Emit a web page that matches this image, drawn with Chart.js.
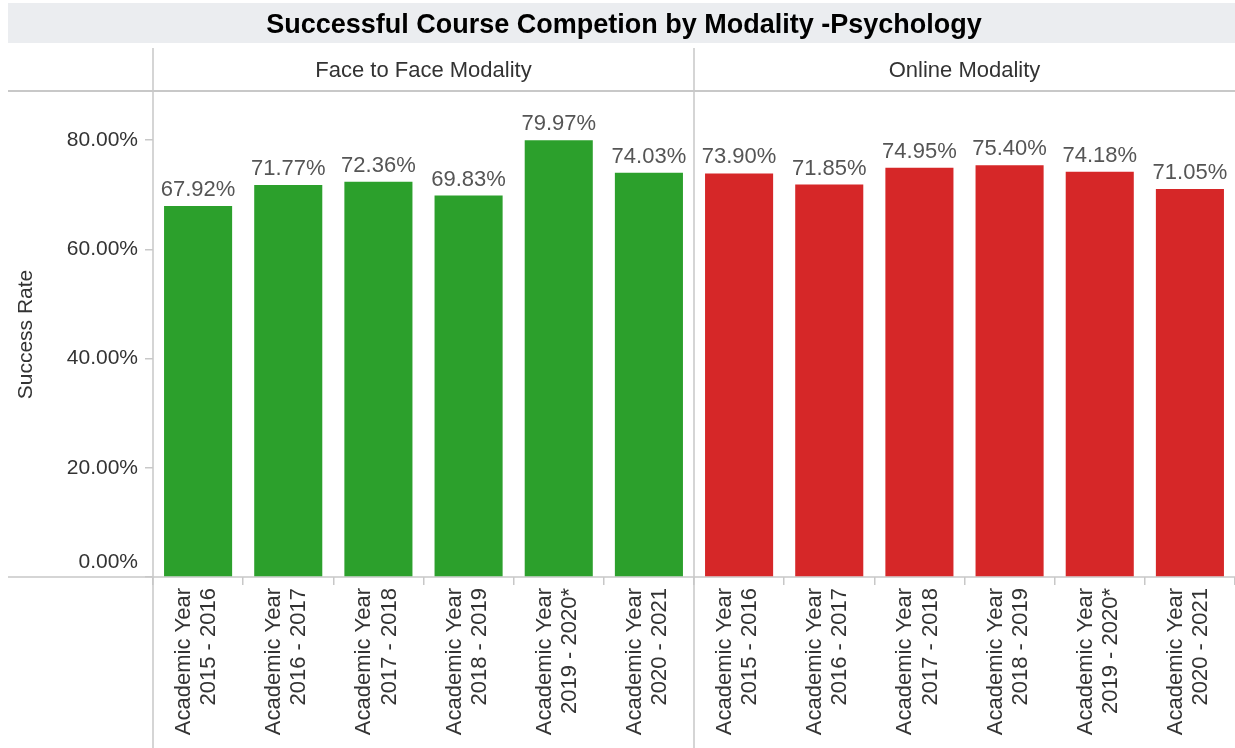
<!DOCTYPE html>
<html><head><meta charset="utf-8">
<script src="https://cdn.jsdelivr.net/npm/chart.js@4.4.1/dist/chart.umd.min.js"></script>
<style>html,body{margin:0;padding:0;background:#fff;overflow:hidden}#wrap{width:1235px;height:748px;position:relative}</style>
</head><body><div id="wrap"><canvas id="c"></canvas></div>
<script>
const chartTitle = "Successful Course Competion by Modality -Psychology";
const panelNames = ["Face to Face Modality", "Online Modality"];
const yearPrefix = "Academic Year";
const years = ["2015 - 2016", "2016 - 2017", "2017 - 2018", "2018 - 2019", "2019 - 2020*", "2020 - 2021"];
const faceToFace = [67.92, 71.77, 72.36, 69.83, 79.97, 74.03];
const online = [73.90, 71.85, 74.95, 75.40, 74.18, 71.05];
const yTicks = [0, 20, 40, 60, 80];
const yAxisTitle = "Success Rate";
const yMax = 88.8;

const FONT = "'Liberation Sans', Arial, sans-serif";
Chart.defaults.font.family = FONT;
const LINE = '#c8c8c8';

const labels = years.concat(years).map(y => [yearPrefix, y]);
const n = years.length;
const faceData = faceToFace.concat(new Array(n).fill(null));
const onlineData = new Array(n).fill(null).concat(online);

const frame = {
  id: 'frame',
  beforeDraw(chart) {
    const ctx = chart.ctx, W = chart.width, H = chart.height;
    const ca = chart.chartArea, xs = chart.scales.x;
    ctx.save();
    ctx.fillStyle = '#fff';
    ctx.fillRect(0, 0, W, H);
    ctx.fillStyle = '#ebedf0';
    ctx.fillRect(8, 3, W - 8, 40);
    ctx.fillStyle = '#000';
    ctx.font = 'bold 27px ' + FONT;
    ctx.textAlign = 'center';
    ctx.textBaseline = 'alphabetic';
    ctx.fillText(chartTitle, 624, 33);
    const sep = (xs.getPixelForValue(n - 1) + xs.getPixelForValue(n)) / 2;
    ctx.fillStyle = '#333';
    ctx.font = '22px ' + FONT;
    ctx.fillText(panelNames[0], (ca.left + sep) / 2, 77);
    ctx.fillText(panelNames[1], (sep + ca.right) / 2, 77);
    ctx.strokeStyle = LINE;
    ctx.lineWidth = 2;
    ctx.beginPath();
    ctx.moveTo(8, 91); ctx.lineTo(W, 91);
    ctx.stroke();
    ctx.lineWidth = 1.5;
    ctx.beginPath();
    ctx.moveTo(8, ca.bottom); ctx.lineTo(W, ca.bottom);
    ctx.moveTo(ca.left, 48); ctx.lineTo(ca.left, H);
    ctx.moveTo(sep, 48); ctx.lineTo(sep, H);
    ctx.stroke();
    // zero label sits above the baseline
    ctx.fillStyle = '#333';
    ctx.font = '21px ' + FONT;
    ctx.textAlign = 'right';
    ctx.fillText((0).toFixed(2) + '%', ca.left - 15, ca.bottom - 9);
    ctx.restore();
  },
  afterDatasetsDraw(chart) {
    const ctx = chart.ctx;
    ctx.save();
    ctx.fillStyle = '#555';
    ctx.font = '22px ' + FONT;
    ctx.textAlign = 'center';
    ctx.textBaseline = 'alphabetic';
    chart.data.datasets.forEach((ds, di) => {
      const meta = chart.getDatasetMeta(di);
      meta.data.forEach((el, i) => {
        const v = ds.data[i];
        if (v === null || v === undefined) return;
        ctx.fillText(v.toFixed(2) + '%', el.x, el.y - 10);
      });
    });
    ctx.restore();
  }
};

new Chart(document.getElementById('c'), {
  type: 'bar',
  data: {
    labels: labels,
    datasets: [
      { label: panelNames[0], data: faceData, backgroundColor: '#2ca02c', categoryPercentage: 1, barPercentage: 0.755 },
      { label: panelNames[1], data: onlineData, backgroundColor: '#d62728', categoryPercentage: 1, barPercentage: 0.755 }
    ]
  },
  options: {
    responsive: true,
    maintainAspectRatio: false,
    animation: false,
    devicePixelRatio: 1,
    layout: { padding: { top: 92, left: 0, right: 0, bottom: 0 } },
    plugins: { legend: { display: false }, title: { display: false }, tooltip: { enabled: false } },
    scales: {
      x: {
        stacked: true,
        offset: true,
        grid: { offset: true, drawOnChartArea: false, drawTicks: true, tickLength: 8, color: LINE, lineWidth: 1.5 },
        border: { display: false },
        ticks: {
          autoSkip: false, maxRotation: 90, minRotation: 90, padding: 3, labelOffset: -14,
          color: '#333', font: { size: 22, lineHeight: 1.14 }
        },
        afterFit(s) { s.height = 171; s.paddingLeft = 0; s.paddingRight = 0; }
      },
      y: {
        stacked: true,
        min: 0,
        max: yMax,
        afterBuildTicks(s) { s.ticks = yTicks.map(v => ({ value: v })); },
        grid: { drawOnChartArea: false, drawTicks: true, tickLength: 8, color: LINE, lineWidth: 1.5 },
        border: { display: false },
        ticks: {
          padding: 7, color: '#333', font: { size: 21 },
          callback: v => v === 0 ? '' : Number(v).toFixed(2) + '%'
        },
        title: { display: true, text: yAxisTitle, color: '#333', font: { size: 21 }, padding: { top: 14, bottom: 0 } },
        afterFit(s) { s.width = 153; s.paddingTop = 0; s.paddingBottom = 0; }
      }
    }
  },
  plugins: [frame]
});
</script>
</body></html>
